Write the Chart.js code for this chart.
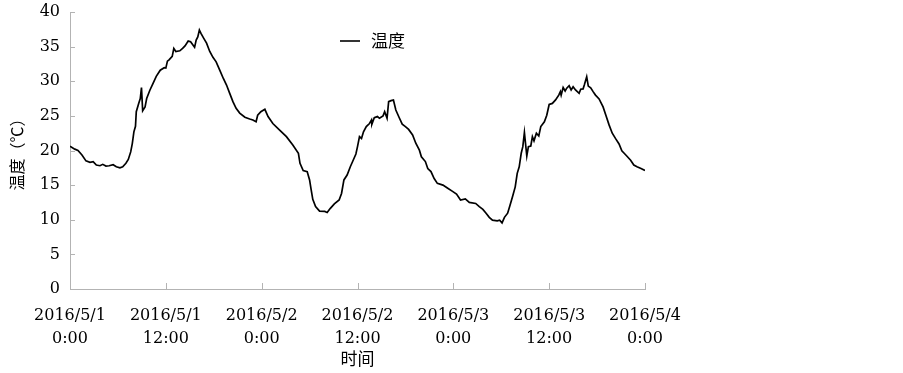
<!DOCTYPE html>
<html><head><meta charset="utf-8">
<script src="https://cdn.jsdelivr.net/npm/chart.js@4.4.1/dist/chart.umd.min.js"></script>
<style>html,body{margin:0;padding:0;background:#fff}canvas{display:block}</style>
</head><body>
<canvas id="c" width="903" height="373"></canvas>
<script>
// hours since 2016/5/1 0:00
const hours = [0,0.6,1.0,1.5,2.0,2.5,2.9,3.3,3.75,4.1,4.5,4.9,5.4,5.8,6.25,6.6,7.0,7.3,7.6,7.8,8.0,8.2,8.3,8.6,8.8,8.95,9.1,9.4,9.6,10.0,10.4,10.8,11.3,11.8,12.0,12.2,12.4,12.8,13.0,13.25,13.75,14.1,14.4,14.8,15.1,15.6,15.8,16.0,16.2,16.4,16.75,17.1,17.5,17.9,18.3,18.75,19.2,19.6,20.0,20.4,20.8,21.25,21.9,22.5,22.9,23.3,23.5,23.9,24.4,24.8,25.4,26.25,27.1,27.9,28.6,28.8,29.2,29.7,30.0,30.2,30.4,30.75,31.25,31.9,32.2,32.6,33.1,33.7,34.0,34.3,34.7,35.1,35.5,35.8,36.0,36.25,36.5,36.75,37.1,37.5,37.75,37.8,38.1,38.5,38.75,39.2,39.4,39.7,39.9,40.2,40.5,40.8,41.2,41.6,42.0,42.4,42.9,43.3,43.75,44.0,44.5,44.8,45.2,45.6,46.0,46.7,47.3,47.9,48.4,48.9,49.5,50.0,50.8,51.25,51.7,52.1,52.5,52.9,53.5,53.8,54.1,54.4,54.8,55.1,55.4,55.75,56.0,56.25,56.5,56.7,56.9,57.2,57.4,57.7,57.9,58.1,58.4,58.7,58.95,59.4,59.7,60.0,60.4,60.8,61.2,61.4,61.5,61.75,62.0,62.2,62.5,62.75,63.0,63.3,63.75,63.95,64.25,64.4,64.7,64.9,65.2,65.5,65.8,66.25,66.75,67.1,67.5,67.9,68.3,68.75,69.1,69.6,70.2,70.6,71.0,71.5,72.0];
const temps = [20.6,20.2,20.0,19.35,18.5,18.3,18.4,17.9,17.8,18.0,17.75,17.8,17.95,17.65,17.5,17.65,18.15,18.7,19.8,21.0,22.7,23.5,25.6,26.8,27.5,29.1,25.75,26.3,27.5,28.7,29.7,30.7,31.6,31.95,31.9,32.9,33.1,33.6,34.75,34.3,34.4,34.75,35.1,35.8,35.7,34.9,35.95,36.4,37.4,36.9,36.2,35.5,34.3,33.45,32.8,31.6,30.4,29.45,28.25,27.05,26.1,25.4,24.8,24.55,24.4,24.15,25.1,25.6,25.95,24.9,23.9,22.95,22.0,20.8,19.6,18.15,17.1,16.95,15.75,14.3,12.95,11.9,11.25,11.2,11.05,11.65,12.3,12.85,13.8,15.75,16.45,17.65,18.7,19.5,20.55,22.0,21.75,22.7,23.45,23.9,24.4,23.8,24.75,24.9,24.65,25.0,25.6,24.65,27.05,27.2,27.3,25.85,24.8,23.8,23.45,23.05,22.25,21.05,20.05,19.1,18.4,17.4,16.95,15.95,15.25,15.0,14.55,14.1,13.7,12.85,13.0,12.5,12.35,11.9,11.5,10.95,10.35,9.95,9.85,9.95,9.55,10.35,10.95,12.1,13.3,14.75,16.7,17.65,19.6,20.55,22.6,19.2,20.55,20.65,22.0,21.4,22.5,22.1,23.45,24.15,25.1,26.65,26.8,27.3,28.0,28.5,28.0,29.1,28.6,29.0,29.35,28.75,29.2,28.75,28.25,28.85,28.9,29.45,30.65,29.3,29.05,28.5,28.0,27.45,26.3,25.1,23.7,22.5,21.75,20.95,19.95,19.35,18.6,17.9,17.65,17.4,17.1];
const xTickLabels = [["2016/5/1","0:00"],["2016/5/1","12:00"],["2016/5/2","0:00"],["2016/5/2","12:00"],["2016/5/3","0:00"],["2016/5/3","12:00"],["2016/5/4","0:00"]];
const yTickValues = [0,5,10,15,20,25,30,35,40];
const seriesName = "温度";
const xTitle = "时间";
const yTitle = "温度（℃）";

const AXIS = '#b3b3b3';
const tickFont = {family: '"DejaVu Serif", "Liberation Serif", serif', size: 16, lineHeight: 1.5};
const cjkFont = '"Noto Sans CJK SC", "Noto Sans", sans-serif';

const inwardTicks = {
  id: 'inwardTicks',
  afterDatasetsDraw(chart) {
    const {ctx, scales: {x, y}} = chart;
    ctx.save();
    ctx.strokeStyle = AXIS; ctx.lineWidth = 1;
    ctx.beginPath();
    x.ticks.forEach(t => { const px = Math.round(x.getPixelForValue(t.value)) + 0.5; ctx.moveTo(px, y.bottom); ctx.lineTo(px, y.bottom - 6); });
    y.ticks.forEach(t => { const py = Math.round(y.getPixelForValue(t.value)) + 0.5; ctx.moveTo(x.left, py); ctx.lineTo(x.left + 5, py); });
    ctx.stroke();
    ctx.restore();
  }
};
const innerLegend = {
  id: 'innerLegend',
  afterDraw(chart) {
    const {ctx, chartArea} = chart;
    const ds = chart.data.datasets[0];
    const x0 = chartArea.left + 270, yc = chartArea.top + 29;
    ctx.save();
    ctx.strokeStyle = ds.borderColor; ctx.lineWidth = 1.6;
    ctx.beginPath(); ctx.moveTo(x0, yc); ctx.lineTo(x0 + 20, yc); ctx.stroke();
    ctx.fillStyle = '#000'; ctx.font = '17px ' + cjkFont; ctx.textBaseline = 'middle'; ctx.textAlign = 'left';
    ctx.fillText(ds.label, x0 + 31, yc);
    ctx.restore();
  }
};

new Chart(document.getElementById('c'), {
  type: 'line',
  data: {
    datasets: [{
      label: seriesName,
      data: hours.map((h, i) => ({x: h, y: temps[i]})),
      borderColor: '#000', borderWidth: 1.7, pointRadius: 0, tension: 0, fill: false
    }]
  },
  options: {
    responsive: false, animation: false, devicePixelRatio: 1,
    layout: {padding: {top: 12, right: 258, left: 0, bottom: 0}},
    plugins: {legend: {display: false}, tooltip: {enabled: false}},
    scales: {
      x: {
        type: 'linear', min: 0, max: 72,
        afterBuildTicks(s) { s.ticks = xTickLabels.map((_, i) => ({value: i * 12})); },
        afterFit(s) { s.height = 84; s.paddingLeft = 0; s.paddingRight = 0; },
        ticks: {callback: v => xTickLabels[Math.round(v / 12)], font: {family: tickFont.family, size: 16, lineHeight: 1.45}, color: '#000', padding: 15, maxRotation: 0, autoSkip: false},
        grid: {display: false, drawTicks: false},
        border: {display: true, color: AXIS, width: 1},
        title: {display: true, text: xTitle, color: '#000', font: {family: cjkFont, size: 17, lineHeight: 1.2}, padding: {top: 0, bottom: 4}}
      },
      y: {
        min: 0, max: 40,
        afterBuildTicks(s) { s.ticks = yTickValues.map(v => ({value: v})); },
        afterFit(s) { s.width = 70; s.paddingTop = 0; s.paddingBottom = 0; },
        ticks: {font: tickFont, color: '#000', padding: 10},
        grid: {display: false, drawTicks: false},
        border: {display: true, color: AXIS, width: 1},
        title: {display: true, text: yTitle, color: '#000', font: {family: cjkFont, size: 16, lineHeight: 1.2}, padding: {top: 7, bottom: 0}}
      }
    }
  },
  plugins: [inwardTicks, innerLegend]
});
</script>
</body></html>
